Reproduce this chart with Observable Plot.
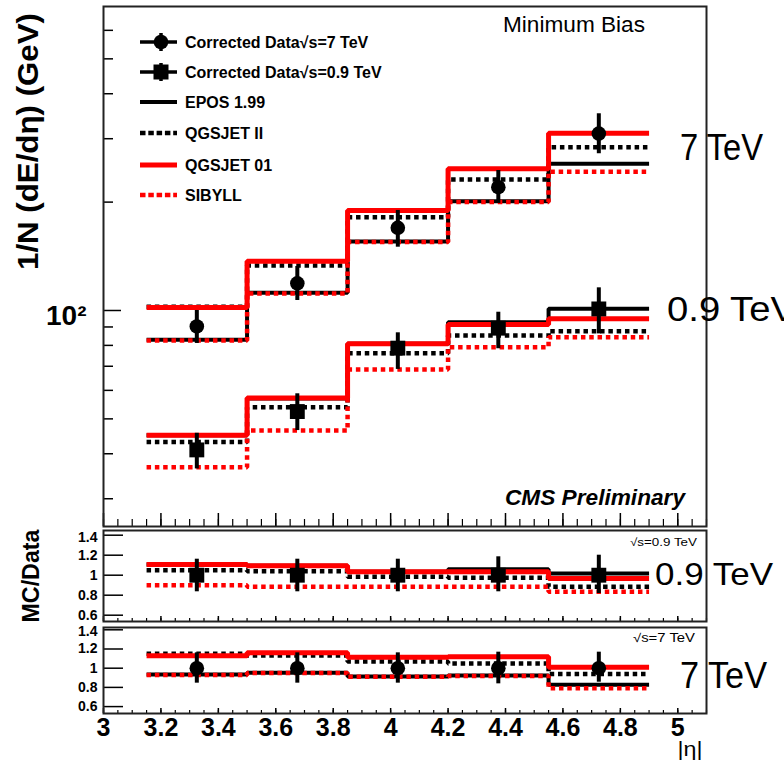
<!DOCTYPE html>
<html><head><meta charset="utf-8">
<script src="https://cdn.jsdelivr.net/npm/d3@7"></script>
<script src="https://cdn.jsdelivr.net/npm/@observablehq/plot@0.6"></script>
<style>
body{margin:0;background:#fff;}
#chart{position:relative;width:784px;height:763px;overflow:hidden;background:#fff;}
</style></head><body><div id="chart"></div>
<script>
// ---------------- data ----------------
const binEdges = [3.15, 3.5, 3.85, 4.2, 4.55, 4.9];
const etaCenters = [3.325, 3.675, 4.025, 4.375, 4.725];
const xTickValues = [3, 3.2, 3.4, 3.6, 3.8, 4, 4.2, 4.4, 4.6, 4.8, 5];
const xTickLabels = ["3", "3.2", "3.4", "3.6", "3.8", "4", "4.2", "4.4", "4.6", "4.8", "5"];
const yMainMajor = [100];
const yMainMinor = [30, 40, 50, 60, 70, 80, 90, 200, 300, 400, 500, 600];
const yRatioTicks = [0.6, 0.8, 1, 1.2, 1.4];

// 7 TeV data and models (GeV)
const data7 = [90.3, 119, 169.7, 220, 310];
const data7Lo = [81.0, 106.6, 149.9, 198.3, 272.5];
const data7Hi = [100, 132.5, 189.6, 244.8, 351.9];
const epos7 = [83, 112, 155.5, 201, 255.6];
const qgsjetII7 = [102.5, 133.4, 181.5, 231, 284];
const qgsjet017 = [102, 137, 189.6, 247.5, 310.8];
const sibyll7 = [82.5, 111.5, 155, 200, 243];

// 0.9 TeV data and models (GeV)
const data09 = [41.0, 52.4, 78.6, 89.3, 101];
const data09Lo = [36.3, 46.4, 68.6, 78.3, 86.1];
const data09Hi = [45.6, 58.7, 86.7, 98.9, 115.6];
const epos09 = [45, 57, 80.8, 92.8, 101.1];
const qgsjetII09 = [43.1, 53.9, 76.1, 85.2, 87.6];
const qgsjet0109 = [45, 57.1, 80.8, 91.4, 94.8];
const sibyll09 = [36.7, 46.4, 68.6, 79.1, 84.3];

// MC/Data ratios, 0.9 TeV
const ratioEpos09 = [1.107, 1.094, 1.034, 1.06, 1.017];
const ratioQgsjetII09 = [1.05, 1.04, 0.984, 0.975, 0.884];
const ratioQgsjet0109 = [1.107, 1.094, 1.034, 1.034, 0.967];
const ratioSibyll09 = [0.90, 0.884, 0.884, 0.884, 0.834];
const ratioErrLo09 = [0.834, 0.834, 0.834, 0.834, 0.817];
const ratioErrHi09 = [1.16, 1.16, 1.16, 1.184, 1.2];

// MC/Data ratios, 7 TeV
const ratioEpos7 = [0.934, 0.952, 0.914, 0.924, 0.827];
const ratioQgsjetII7 = [1.15, 1.132, 1.07, 1.05, 0.94];
const ratioQgsjet017 = [1.129, 1.16, 1.115, 1.12, 1.01];
const ratioSibyll7 = [0.93, 0.95, 0.91, 0.92, 0.79];
const ratioErrLo7 = [0.844, 0.844, 0.844, 0.837, 0.854];
const ratioErrHi7 = [1.16, 1.16, 1.16, 1.167, 1.167];

const modelNames = ["EPOS 1.99", "QGSJET II", "QGSJET 01", "SIBYLL"];
const modelStyles = [
  {stroke: "#000", dash: null, width: 4},
  {stroke: "#000", dash: "4.5,3.8", width: 4.5},
  {stroke: "#ff0000", dash: null, width: 5},
  {stroke: "#ff0000", dash: "4.5,3.8", width: 4.5}
];

// ---------------- helpers ----------------
const FONT = "'Liberation Sans', Arial, sans-serif";
const xDomain = [3, 5.1];
const xMinor = d3.range(3, 5.1001, 0.05).map(v => +v.toFixed(2));
const xMajor = xTickValues;

function steps(values) {
  return binEdges.map((x, i) => ({x, y: values[Math.min(i, values.length - 1)]}));
}
function histMarks(seriesList) {
  return seriesList.map((vals, k) => Plot.line(steps(vals), {
    x: "x", y: "y", curve: "step-after",
    stroke: modelStyles[k].stroke, strokeWidth: modelStyles[k].width,
    strokeDasharray: modelStyles[k].dash, strokeLinecap: "butt", strokeLinejoin: "miter"
  }));
}
function points(vals, lo, hi) {
  return etaCenters.map((x, i) => ({x, y: vals[i], lo: lo[i], hi: hi[i]}));
}
function dataMarks(pts, symbol) {
  return [
    Plot.ruleX(pts, {x: "x", y1: "lo", y2: "hi", stroke: "#000", strokeWidth: 4}),
    symbol === "square"
      ? Plot.dot(pts, {x: "x", y: "y", symbol: "square", r: 8.4, fill: "#000", stroke: "none"})
      : Plot.dot(pts, {x: "x", y: "y", r: 7.3, fill: "#000", stroke: "none"})
  ];
}
const frameW = 784 - 103 - 78;

// ---------------- main panel ----------------
const mainH = 528, mainMT = 6, mainMB = 2;
const mainInner = mainH - mainMT - mainMB;
const mainPlot = Plot.plot({
  width: 784, height: mainH,
  marginLeft: 103, marginRight: 78, marginTop: mainMT, marginBottom: mainMB,
  x: {domain: xDomain, axis: null},
  y: {type: "log", domain: [25.12, 698.8]},
  style: {fontFamily: FONT, fontWeight: "bold", fontSize: "27px", color: "#000", background: "transparent"},
  marks: [
    Plot.axisY(yMainMajor, {tickSize: 0, tickPadding: 17, dy: 6, label: null, tickFormat: () => "10²", fontSize: 28, fontWeight: "bold"}),
    Plot.tickY(yMainMajor, {y: d => d, insetRight: frameW - 18, stroke: "#000", strokeWidth: 1.5}),
    Plot.tickY(yMainMinor, {y: d => d, insetRight: frameW - 10, stroke: "#000", strokeWidth: 1.5}),
    Plot.tickX(xMajor, {x: d => d, insetTop: mainInner - 13, stroke: "#000", strokeWidth: 1.5}),
    Plot.tickX(xMinor, {x: d => d, insetTop: mainInner - 7, stroke: "#000", strokeWidth: 1.2}),
    ...histMarks([epos7, qgsjetII7, qgsjet017, sibyll7]),
    ...histMarks([epos09, qgsjetII09, qgsjet0109, sibyll09]),
    ...dataMarks(points(data7, data7Lo, data7Hi), "circle"),
    ...dataMarks(points(data09, data09Lo, data09Hi), "square"),
    Plot.frame({stroke: "#222", strokeWidth: 2})
  ]
});

// ---------------- ratio panels ----------------
function ratioPlot({height, mt, mb, domain, series, pts, symbol, withXAxis}) {
  const inner = height - mt - mb;
  const fmt = d => d === 1 ? "1" : d.toFixed(1);
  const marks = [
    Plot.axisY(yRatioTicks.filter(d => d < 1.3), {tickSize: 0, tickPadding: 6, label: null,
      tickFormat: fmt, fontSize: 14, fontWeight: "bold"}),
    Plot.axisY(yRatioTicks.filter(d => d > 1.3), {tickSize: 0, tickPadding: 6, label: null, dy: 2,
      tickFormat: fmt, fontSize: 14, fontWeight: "bold"}),
    Plot.tickY(yRatioTicks, {y: d => d, insetRight: frameW - 20, stroke: "#000", strokeWidth: 1.5}),
    Plot.tickX(xMajor, {x: d => d, insetTop: inner - 5, stroke: "#000", strokeWidth: 1.5}),
    Plot.tickX(xMinor, {x: d => d, insetTop: inner - 3, stroke: "#000", strokeWidth: 1.2}),
    ...histMarks(series),
    ...dataMarks(pts, symbol),
    Plot.frame({stroke: "#222", strokeWidth: 2})
  ];
  if (withXAxis) {
    marks.unshift(Plot.axisX(xTickValues, {tickSize: 0, tickPadding: 5, label: null,
      tickFormat: d => xTickLabels[xTickValues.indexOf(d)], fontSize: 25, fontWeight: "bold"}));
  }
  return Plot.plot({
    width: 784, height,
    marginLeft: 103, marginRight: 78, marginTop: mt, marginBottom: mb,
    x: {domain: xDomain, axis: withXAxis ? undefined : null},
    y: {domain},
    style: {fontFamily: FONT, fontWeight: "bold", fontSize: "14px", color: "#000", background: "transparent", overflow: "visible"},
    marks
  });
}
const ones = etaCenters.map(() => 1);
const ratio09Plot = ratioPlot({
  height: 95, mt: 2, mb: 2, domain: [0.537, 1.447],
  series: [ratioEpos09, ratioQgsjetII09, ratioQgsjet0109, ratioSibyll09],
  pts: points(ones, ratioErrLo09, ratioErrHi09), symbol: "square", withXAxis: false
});
const ratio7Plot = ratioPlot({
  height: 140, mt: 4, mb: 50, domain: [0.528, 1.424],
  series: [ratioEpos7, ratioQgsjetII7, ratioQgsjet017, ratioSibyll7],
  pts: points(ones, ratioErrLo7, ratioErrHi7), symbol: "circle", withXAxis: true
});

const chart = document.getElementById("chart");
[[mainPlot, 0], [ratio09Plot, 528], [ratio7Plot, 623]].forEach(([svg, top]) => {
  svg.style.position = "absolute";
  svg.style.left = "0px";
  svg.style.top = top + "px";
  chart.appendChild(svg);
});

// ---------------- overlay: legend and annotations ----------------
const ov = d3.select(chart).append("svg")
  .attr("width", 784).attr("height", 763)
  .style("position", "absolute").style("left", "0px").style("top", "0px")
  .style("pointer-events", "none").style("font-family", FONT);

function label(x, y, str, o = {}) {
  const t = ov.append("text").attr("x", x).attr("y", y).text(str)
    .attr("font-size", o.size || 16).attr("font-weight", o.weight || "normal")
    .attr("font-style", o.style || "normal").attr("fill", "#000")
    .attr("text-anchor", o.anchor || "start");
  if (o.len) t.attr("textLength", o.len).attr("lengthAdjust", "spacingAndGlyphs");
  if (o.rotate) t.attr("transform", `rotate(-90 ${x} ${y})`);
  return t;
}

// legend
const legendRows = [42, 72, 102, 133, 165, 195];
const legendLabels = ["Corrected Data√s=7 TeV", "Corrected Data√s=0.9 TeV", ...modelNames];
legendRows.forEach((y, i) => {
  if (i < 2) {
    ov.append("line").attr("x1", 140).attr("x2", 177).attr("y1", y).attr("y2", y).attr("stroke", "#000").attr("stroke-width", 3.5);
    ov.append("line").attr("x1", 161).attr("x2", 161).attr("y1", y - 9).attr("y2", y + 9).attr("stroke", "#000").attr("stroke-width", 3.5);
    if (i === 0) ov.append("circle").attr("cx", 161).attr("cy", y).attr("r", 7.3).attr("fill", "#000");
    else ov.append("rect").attr("x", 161 - 7.5).attr("y", y - 7.5).attr("width", 15).attr("height", 15).attr("fill", "#000");
  } else {
    const s = modelStyles[i - 2];
    ov.append("line").attr("x1", 140).attr("x2", 177).attr("y1", y).attr("y2", y)
      .attr("stroke", s.stroke).attr("stroke-width", s.width)
      .attr("stroke-dasharray", s.dash ? "5.5,2.8" : null);
  }
  label(185, y + 5.8, legendLabels[i], {size: 16, weight: "bold"});
});

label(503, 32, "Minimum Bias", {size: 22.5, len: 142});
label(505, 505, "CMS Preliminary", {size: 22.5, weight: "bold", style: "italic", len: 180});
label(38, 141.5, "1/N (dE/dη) (GeV)", {size: 30, weight: "bold", anchor: "middle", rotate: true, len: 257});
label(39, 576, "MC/Data", {size: 23, weight: "bold", anchor: "middle", rotate: true, len: 93});
label(680, 160, "7 TeV", {size: 37, len: 83});
label(667, 320.5, "0.9 TeV", {size: 35, len: 129});
label(655, 584.5, "0.9 TeV", {size: 32, len: 118});
label(680, 688, "7 TeV", {size: 37, len: 87});
label(630, 546, "√s=0.9 TeV", {size: 11, len: 67});
label(633, 642, "√s=7 TeV", {size: 12, len: 62});
label(690, 756, "|η|", {size: 20, anchor: "middle", len: 25});
</script>
</body></html>
